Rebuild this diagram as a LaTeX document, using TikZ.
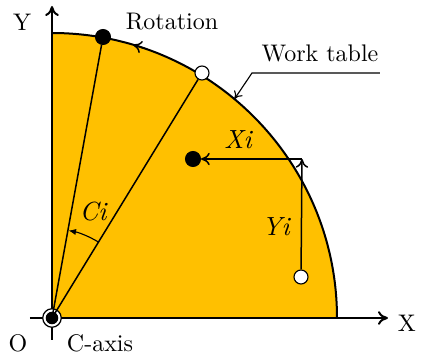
\documentclass[tikz,border=0pt]{standalone}
\usetikzlibrary{arrows.meta}
\definecolor{tablefill}{HTML}{FFC000}
\begin{document}
\begin{tikzpicture}[x=0.4pt,y=0.4pt,
  blackdot/.style={circle,fill=black,draw=black,inner sep=0pt,minimum size=6pt},
  opendot/.style={circle,fill=white,draw=black,line width=0.45pt,inner sep=0pt,minimum size=5.6pt},
  axisline/.style={line width=0.8pt,-{To[length=4pt,width=5.5pt]}},
  ray/.style={line width=0.6pt},
  thin/.style={line width=0.45pt},
  lab/.style={inner sep=0pt,font=\fontsize{9.6}{11}\selectfont},
  mlab/.style={inner sep=0pt,font=\fontsize{10.5}{12}\selectfont\itshape}]
\useasboundingbox (0,0) rectangle (422,360);
% table
\fill[tablefill] (52,42) -- (337,42) arc[start angle=0,end angle=90,radius=285] -- cycle;
\draw[line width=0.8pt] (337,42) arc[start angle=0,end angle=90,radius=285];
% rotation arrow tip on the rim
\begin{scope}[shift={(52,42)}]
  \draw[line width=0.6pt,-{To[length=3.5pt,width=5pt]}] (71:285) arc[start angle=71,end angle=73.5,radius=285];
  \coordinate (wt) at (50.2:285);
  \coordinate (cia) at (58.5:89);
\end{scope}
% axes
\coordinate (xs) at (30,42);
\coordinate (xe) at (388,42);
\coordinate (ys) at (52,20);
\coordinate (ye) at (52,354);
\draw[axisline] (xs) -- (xe);
\draw[axisline] (ys) -- (ye);
% origin
\node[circle,draw=black,line width=0.5pt,fill=white,inner sep=0pt,minimum size=7.4pt] (om) at (52,42) {};
\node[blackdot,minimum size=4.6pt] (o) at (52,42) {};
% points
\node[blackdot] (p1) at (103,323) {};
\node[opendot] (p2) at (202,287) {};
\node[blackdot] (p3) at (193,201) {};
\node[opendot] (p4) at (301,83) {};
\coordinate (corner) at (302,201);
\draw[ray] (o.center) -- (p1);
\draw[ray] (o.center) -- (p2);
% Ci arc
\draw[thin,-{Latex[length=3pt,width=2.5pt]}] (cia) arc[start angle=58.5,end angle=79.3,radius=89];
% Xi / Yi
\draw[line width=0.6pt,-{To[length=3.5pt,width=5pt]}] (p4) -- (corner);
\draw[line width=0.6pt,-{To[length=3.5pt,width=5pt]}] (corner) -- (p3);
% work table leader
\coordinate (l1) at (380,287);
\coordinate (l2) at (252,287);
\draw[thin,-{To[length=3pt,width=4pt]}] (l1) -- (l2) -- (wt);
% labels
\node[lab] (ty) at (22,338) {Y};
\node[lab] (trot) at (172,338) {Rotation};
\node[lab] (twt) at (320,307) {Work table};
\node[lab] (tx) at (407,37) {X};
\node[lab] (to) at (18,17) {O};
\node[lab] (tc) at (100,17) {C-axis};
\node[mlab] (txi) at (238,220) {Xi};
\node[mlab] (tyi) at (276,133) {Yi};
\node[mlab] (tci) at (93,148) {Ci};
\end{tikzpicture}
\end{document}
